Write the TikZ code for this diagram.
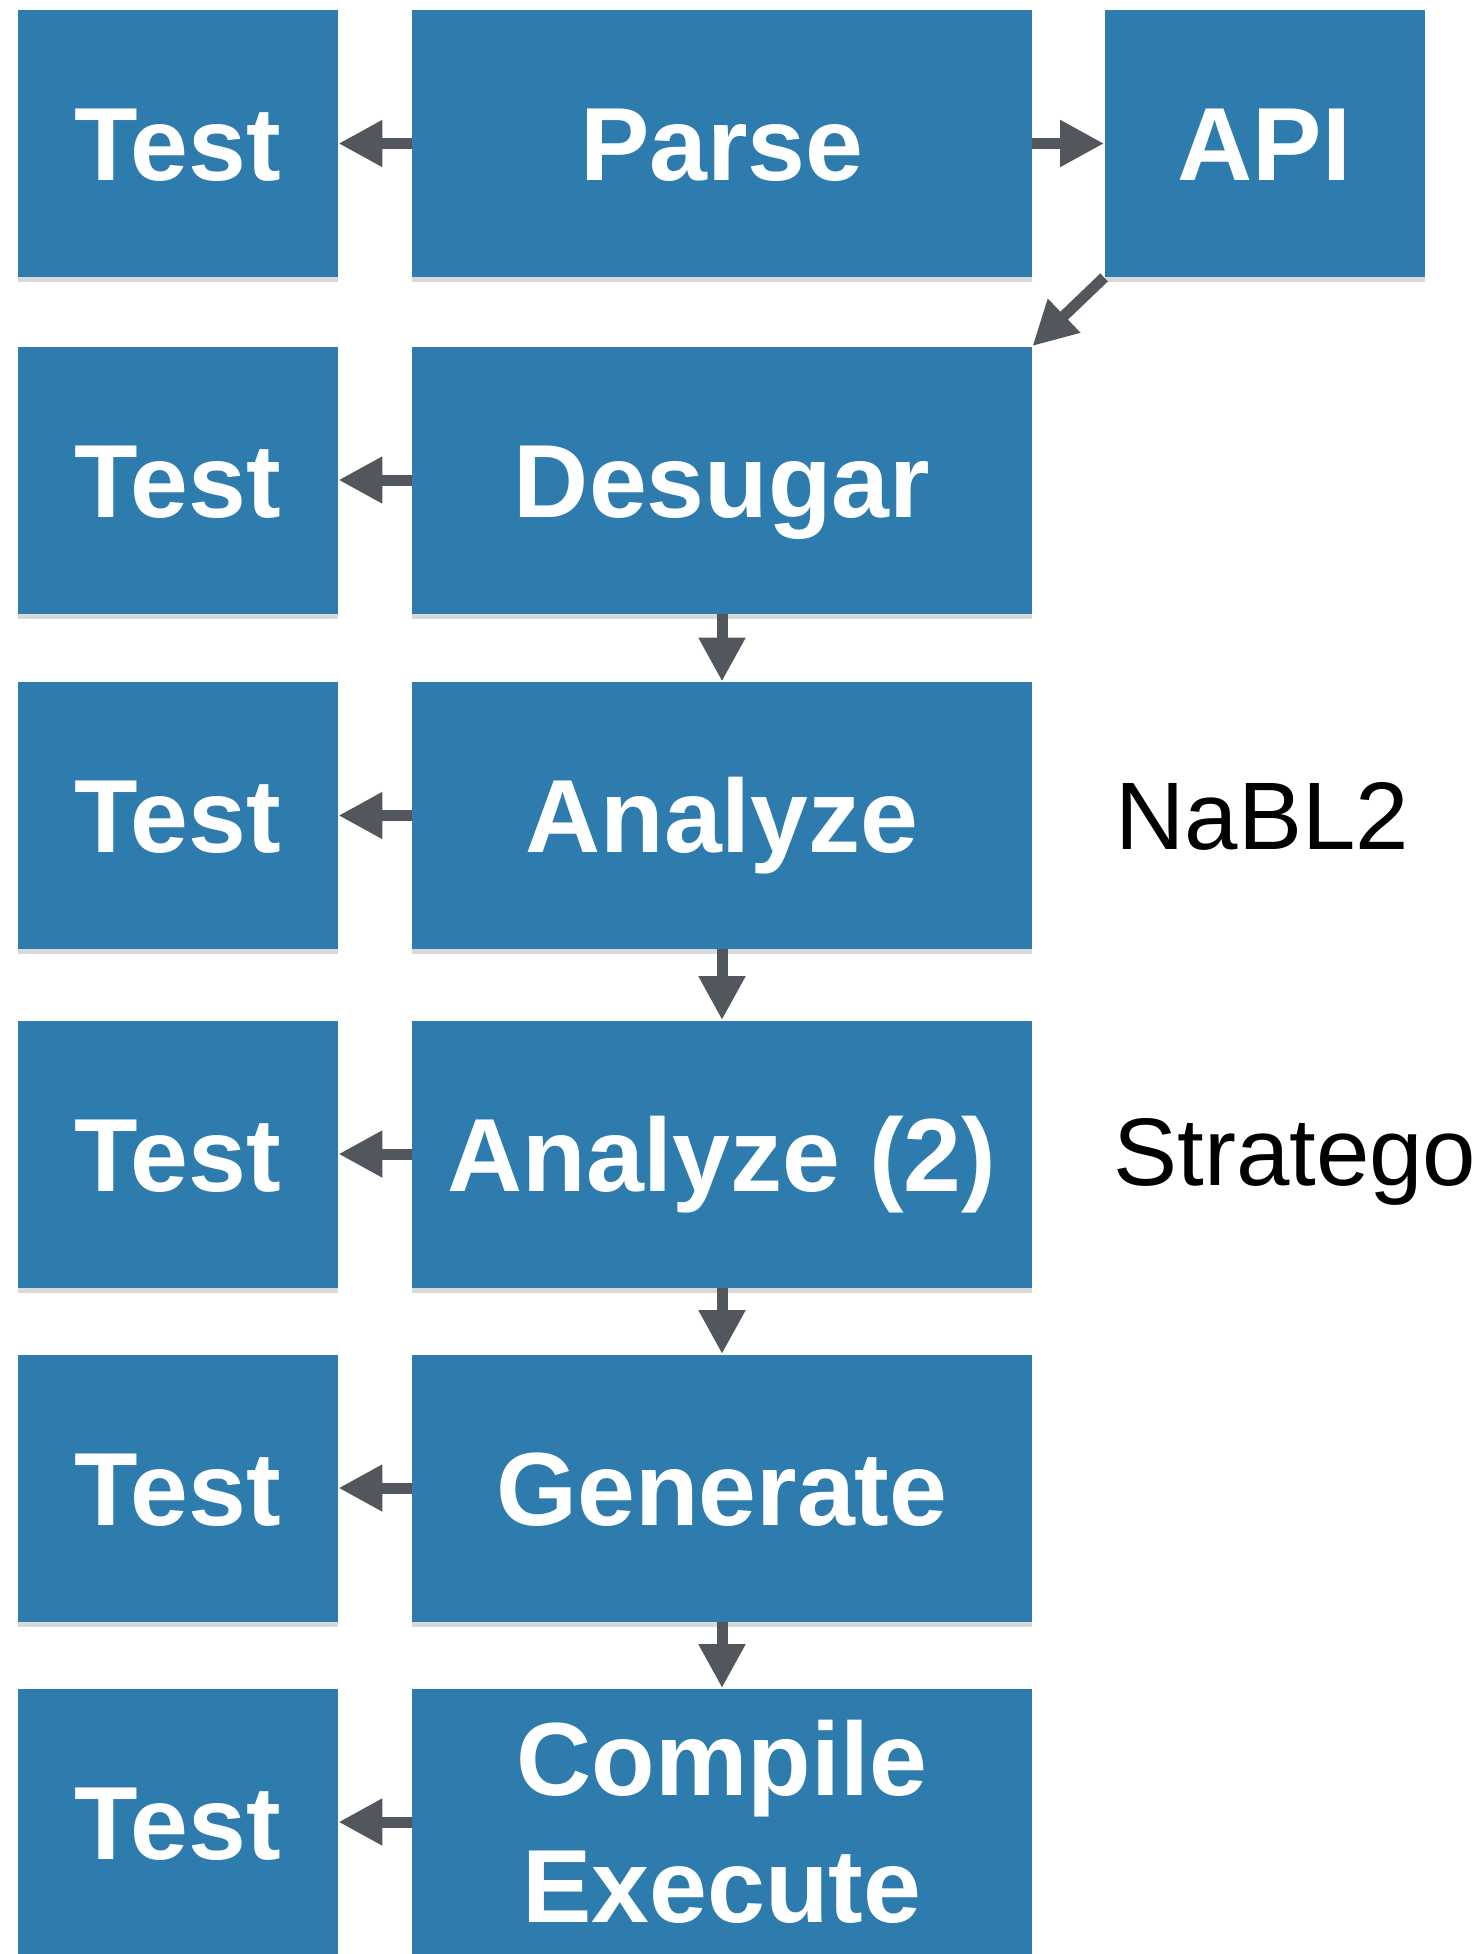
\documentclass[tikz,border=0pt]{standalone}
\usepackage{fontspec}
\setmainfont{Liberation Sans}
\usetikzlibrary{positioning,arrows.meta,shadows}
\definecolor{stageblue}{RGB}{46,124,174}
\definecolor{flowgrey}{RGB}{82,87,94}

\begin{document}
\begin{tikzpicture}[x=0.5pt,y=0.5pt,yscale=-1,xscale=1,
  stagebase/.style={fill=stageblue,text=white,font=\bfseries\fontsize{52}{63.5}\selectfont,
    minimum width=310pt,minimum height=133.5pt,inner sep=0pt,align=center,
    drop shadow={shadow xshift=0pt,shadow yshift=-2.5pt,opacity=0.3}},
  stage/.style={stagebase,text height=37pt,text depth=0pt},
  testbox/.style={stage,minimum width=160pt},
  flow/.style={draw=flowgrey,line width=5.5pt,-{Triangle[length=22pt,width=22pt]}},
  note/.style={font=\fontsize{48}{50}\selectfont,inner sep=0pt,text depth=0pt,anchor=west}]
\useasboundingbox (0,0) rectangle (1473,1954);

%Shape: pipeline stages
\node[stage] (parse) at (722,143.5) {Parse};
\node[testbox] (api) at (1264.5,143.5) {API};
\node[stage] (desugar) at (722,480) {Desugar};
\node[stage] (analyze) at (722,815.5) {Analyze};
\node[stage] (analyzetwo) at (722,1154) {Analyze (2)};
\node[stage] (generate) at (722,1488) {Generate};
\node[stagebase] (compile) at (722,1822) {Compile\\Execute};

%Shape: test boxes
\node[testbox] (testparse) at (178,143.5) {Test};
\node[testbox] (testdesugar) at (178,480) {Test};
\node[testbox] (testanalyze) at (178,815.5) {Test};
\node[testbox] (testanalyzetwo) at (178,1154) {Test};
\node[testbox] (testgenerate) at (178,1488) {Test};
\node[testbox] (testcompile) at (178,1822) {Test};

% Text Node
\node[note] (nabl) at (1115,815.5) {NaBL2};
% Text Node
\node[note] (stratego) at (1113,1152) {Stratego};

%Shape: arrows
\draw[flow] (parse) -- (api);
\draw[flow] (api.south west) -- (desugar.north east);
\draw[flow] (desugar) -- (analyze);
\draw[flow] (analyze) -- (analyzetwo);
\draw[flow] (analyzetwo) -- (generate);
\draw[flow] (generate) -- (compile);

\draw[flow] (parse) -- (testparse);
\draw[flow] (desugar) -- (testdesugar);
\draw[flow] (analyze) -- (testanalyze);
\draw[flow] (analyzetwo) -- (testanalyzetwo);
\draw[flow] (generate) -- (testgenerate);
\draw[flow] (compile) -- (testcompile);

\end{tikzpicture}
\end{document}
